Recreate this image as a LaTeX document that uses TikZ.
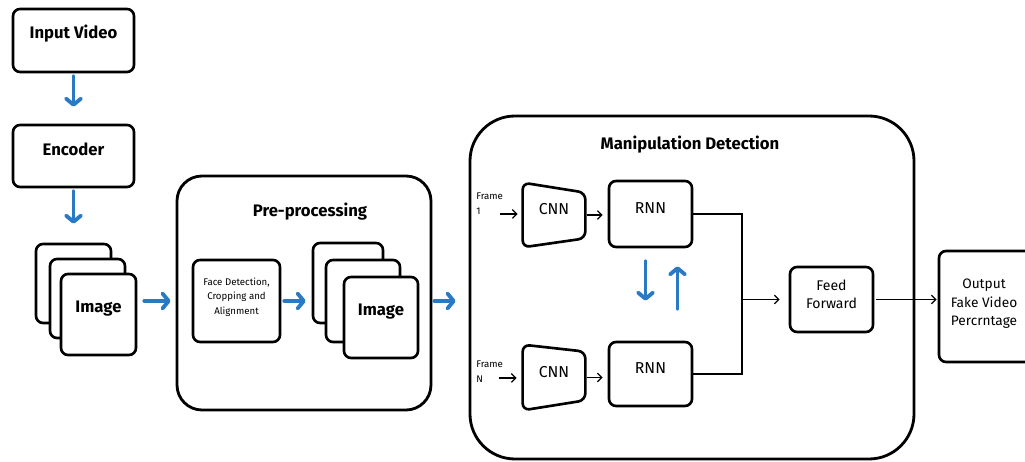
\documentclass[tikz,border=0pt]{standalone}
\usepackage{fontspec}
\setmainfont{Fira Sans}
\usetikzlibrary{arrows.meta,fit,calc}
\definecolor{flowblue}{RGB}{41,121,197}
\begin{document}
\begin{tikzpicture}[x=0.02cm,y=-0.02cm,
  box/.style={draw, line width=1.5pt, rounded corners=4pt, fill=white,
    inner sep=0pt, align=center, font=\fontsize{9.5}{11}\selectfont},
  card/.style={box},
  container/.style={draw, line width=1.6pt, inner sep=0pt},
  heading/.style={font=\fontsize{9.5}{11}\selectfont\bfseries},
  flow/.style={draw=flowblue, line width=2.2pt, line cap=round,
    -{Straight Barb[length=3.5pt,width=8.5pt,round]}},
  link/.style={line width=0.7pt, -{Straight Barb[length=2.5pt,width=5pt]}},
  wire/.style={line width=0.8pt},
  tiny/.style={font=\fontsize{5.5}{9}\selectfont, align=left, inner sep=0pt}]
\useasboundingbox (0,0) rectangle (1025,462);
\clip (0,0) rectangle (1025,462);

% containers
\node[container, rounded corners=0.5cm, fit={(177,176)(431,410)}] (pre) {};
\node[container, rounded corners=0.9cm, fit={(470,116)(914,459)}] (manip) {};
\node[heading] (pretitle) at (310,212) {Pre-processing};
\node[heading] (maniptitle) at (690,145) {Manipulation Detection};

% input chain
\node[box, fit={(13,9)(134,72)}] (input) {\bfseries Input Video};
\node[box, fit={(13,125)(134,187)}] (encoder) {\bfseries Encoder};

% first image stack
\node[card, fit={(36,244)(111,323)}] (img1c) {};
\node[card, fit={(50,259)(125,338)}] (img1b) {};
\node[card, fit={(61,274)(136,355)}] (img1) {\bfseries Image};

% pre-processing contents
\node[box, fit={(193,260)(280,342)}, font=\fontsize{5.5}{8}\selectfont] (face)
  {Face Detection,\\Cropping and\\Alignment};
\node[card, fit={(313,243)(383,323)}] (img2c) {};
\node[card, fit={(326,260)(400,342)}] (img2b) {};
\node[card, fit={(344,277)(418,358)}] (img2) {\bfseries Image};

% blue flow arrows
\draw[flow] ([shift={(0,3)}]input.south) -- ([shift={(0,-17)}]encoder.north);
\draw[flow] ([shift={(0,3)}]encoder.south) -- ([shift={(0,-19)}]img1c.north);
\draw[flow] ([shift={(7,0)}]img1.east |- face) -- ([shift={(-5,0)}]pre.west |- face);
\draw[flow] ([shift={(3,0)}]face.east) -- ([shift={(-6,0)}]img2c.west |- face);
\draw[flow] ([shift={(2,0)}]pre.east |- face) -- ([shift={(-13,0)}]manip.west |- face);

% manipulation detection: two frame branches
\node[tiny, anchor=north west] (fr1) at (476,192) {Frame\\1};
\node[tiny, anchor=north west] (frn) at (476,360) {Frame\\N};
\node[inner sep=0pt, fit={(523,183)(585,247)}, font=\fontsize{9}{10}\selectfont] (cnn1) {CNN};
\node[inner sep=0pt, fit={(523,345)(585,410)}, font=\fontsize{9}{10}\selectfont] (cnn2) {CNN};
\draw[line width=1.5pt, rounded corners=4pt] (cnn1.north west) -- ([shift={(0,10)}]cnn1.north east)
  -- ([shift={(0,-9)}]cnn1.south east) -- (cnn1.south west) -- cycle;
\draw[line width=1.5pt, rounded corners=4pt] (cnn2.north west) -- ([shift={(0,7)}]cnn2.north east)
  -- ([shift={(0,-10)}]cnn2.south east) -- (cnn2.south west) -- cycle;
\node[box, fit={(609,181)(692,247)}, font=\fontsize{9}{10}\selectfont] (rnn1) {RNN};
\node[box, fit={(609,342)(692,406)}, font=\fontsize{9}{10}\selectfont] (rnn2) {RNN};

\coordinate (f1) at (500,214);
\coordinate (fn) at (499,378);
\draw[link] (f1) -- ([shift={(-5,0)}]f1 -| cnn1.west);
\draw[link] (fn) -- ([shift={(-6,0)}]fn -| cnn2.west);
\draw[link] ([shift={(2,0)}]cnn1.east) -- ([shift={(-5,0)}]cnn1.east -| rnn1.west);
\draw[link] ([shift={(2,0)}]cnn2.east) -- ([shift={(-5,0)}]cnn2.east -| rnn2.west);

% recurrent exchange between the RNNs
\draw[flow] ([shift={(-5,13)}]rnn1.south) -- ([shift={(-5,-40)}]rnn2.north);
\draw[flow] ([shift={(27,-32)}]rnn2.north) -- ([shift={(27,18)}]rnn1.south);

% feed forward and output
\node[box, fit={(790,267)(873,332)}, font=\fontsize{8}{10}\selectfont] (ff) {Feed\\Forward};
\node[box, fit={(939,251)(1045,362)}] (out) {};
\node[align=center, inner sep=0pt, font=\fontsize{7.8}{10.5}\selectfont] (outtext) at (984,304)
  {Output\\Fake Video\\Percrntage};
\coordinate (join) at (742,0);
\draw[wire] (rnn1.east) -| (join |- ff.west) |- (rnn2.east);
\draw[link] (join |- ff.west) -- ([shift={(-9,0)}]ff.west);
\draw[link] ([shift={(2,0)}]ff.east) -- ([shift={(-1,0)}]out.west |- ff.east);
\end{tikzpicture}
\end{document}
